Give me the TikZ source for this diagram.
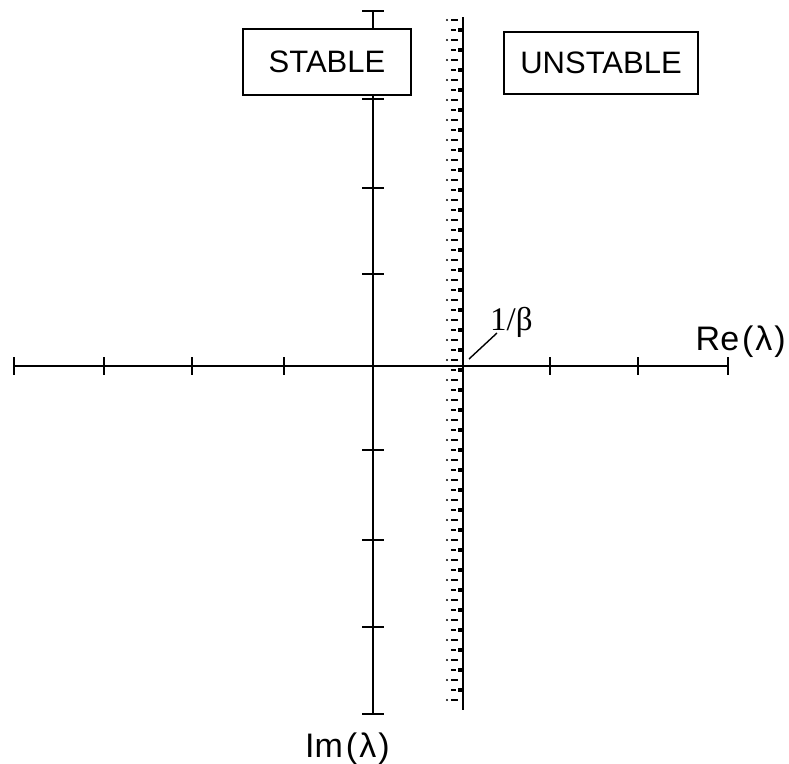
\documentclass[tikz,border=0pt]{standalone}
\usepackage{fontspec}
\usepackage{tikz}
\usetikzlibrary{positioning,calc}
\newfontfamily\labelfont{Liberation Sans}
\newfontfamily\betafont{Liberation Serif}

\begin{document}
\begin{tikzpicture}[x=1pt,y=-1pt,
  axisline/.style={line width=1.6pt,black},
  tickmark/.style={line width=2pt,black},
  regionbox/.style={draw,line width=1.2pt,fill=white,inner sep=0pt,
    font=\labelfont\fontsize{31}{36}\selectfont},
  axislabel/.style={inner sep=0pt,font=\labelfont\fontsize{34}{40}\selectfont}]
\useasboundingbox (0,0) rectangle (789,763);
\def\ox{373}
\def\oy{366}
\def\tk{9}

% Axis end points.
\coordinate (west) at (14,\oy);
\coordinate (east) at (728,\oy);
\coordinate (north) at (\ox,11);
\coordinate (south) at (\ox,714);

% Shaded strip left of the boundary line.
\foreach \yy [count=\i] in {20,30,...,700}{
  \ifodd\i
    \fill (447,\yy) circle (1.2);
    \fill (451,\yy-1.2) rectangle (458,\yy+1.2);
  \else
    \fill (451,\yy-1.2) rectangle (456,\yy+1.2);
    \fill (458,\yy-1.6) rectangle (463,\yy+1.6);
  \fi
}
\coordinate (striptop) at (463,17);
\coordinate (stripbot) at (463,710);
\draw[line width=2pt] (striptop) -- (stripbot);

% Axes with end bars and ticks.
\draw[axisline] (west) -- (east);
\draw[axisline] (north) -- (south);
\foreach \xx in {14,104,192,284,463,550,638,728}
  \draw[tickmark] (\xx,\oy-\tk) -- (\xx,\oy+\tk);
\foreach \yy in {11,99,188,274,450,540,627,714}
  \draw[tickmark] (\ox-11,\yy) -- (\ox+11,\yy);

% Region boxes.
\node[regionbox,minimum width=168,minimum height=66] (stable)
  at (327,62) {STABLE};
\node[regionbox,minimum width=194,minimum height=62] (unstable)
  at (601,63) {UNSTABLE};

% Axis labels.
\node[axislabel,anchor=base east] (re) at (786,350)
  {Re\hspace{3pt}(\hspace{2pt}λ\hspace{2pt})};
\node[axislabel,anchor=base west] (im) at (305,757)
  {Im\hspace{3pt}(\hspace{2pt}λ\hspace{2pt})};

% Boundary value 1/beta with leader line.
\node[inner sep=0pt,anchor=base west,
  font=\betafont\fontsize{33}{38}\selectfont] (beta) at (490,330) {1/β};
\coordinate (foot) at (469,359);
\draw[line width=1.4pt] (foot) -- ([shift={(7,3)}]beta.base west);

\end{tikzpicture}
\end{document}
